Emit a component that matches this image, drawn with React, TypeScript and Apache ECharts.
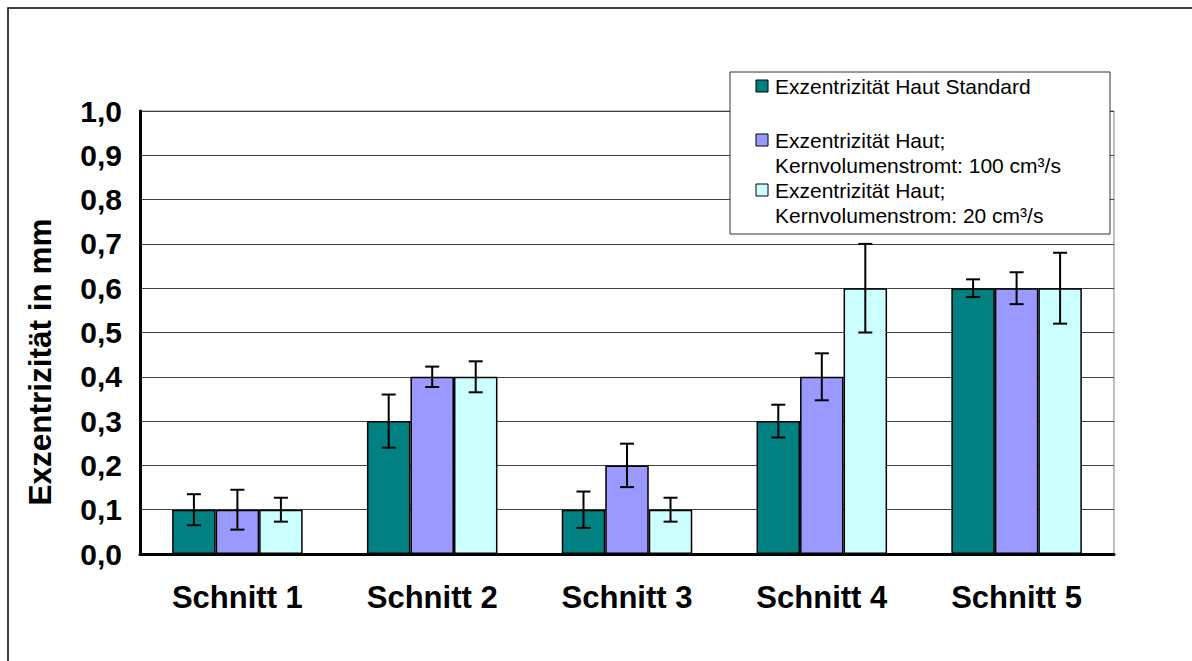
import React, { useEffect, useRef } from "react";
import * as echarts from "echarts";

const categories = ["Schnitt 1", "Schnitt 2", "Schnitt 3", "Schnitt 4", "Schnitt 5"];
const seriesNames = [
  "Exzentrizität Haut Standard",
  "Exzentrizität Haut;\nKernvolumenstromt: 100 cm³/s",
  "Exzentrizität Haut;\nKernvolumenstrom: 20 cm³/s",
];
const seriesColors = ["#008080", "#9999FF", "#CCFFFF"];
const standard = [0.1, 0.3, 0.1, 0.3, 0.6];
const kern100 = [0.1, 0.4, 0.2, 0.4, 0.6];
const kern20 = [0.1, 0.4, 0.1, 0.6, 0.6];
const errStandard = [0.035, 0.06, 0.041, 0.037, 0.02];
const err100 = [0.045, 0.023, 0.049, 0.053, 0.036];
const err20 = [0.027, 0.035, 0.027, 0.1, 0.08];
const yTicks = [0, 0.1, 0.2, 0.3, 0.4, 0.5, 0.6, 0.7, 0.8, 0.9, 1.0];

const FONT = "'Liberation Sans', Arial, Helvetica, sans-serif";
const CAT_GAP = 0.33;

export default function App() {
  const ref = useRef<HTMLDivElement>(null);
  useEffect(() => {
    document.body.style.margin = "0";
    const chart = echarts.init(ref.current!, null, { renderer: "svg" });
    const values = [standard, kern100, kern20];
    const errs = [errStandard, err100, err20];

    const barSeries = values.map((vals, k) => ({
      type: "bar",
      name: seriesNames[k],
      data: vals,
      barGap: "0%",
      barCategoryGap: CAT_GAP * 100 + "%",
      itemStyle: { color: seriesColors[k], borderColor: "#000", borderWidth: 1.5 },
      z: 2,
    }));

    const errSeries = values.map((vals, k) => ({
      type: "custom",
      name: seriesNames[k] + " Fehler",
      data: vals.map((v, i) => [i, v, errs[k][i]]),
      z: 5,
      renderItem: (params: any, api: any) => {
        const i = api.value(0);
        const v = api.value(1);
        const e = api.value(2);
        const c = api.coord([i, v]);
        const catW = api.size([1, 0])[0];
        const bw = (catW * (1 - CAT_GAP)) / 3;
        const x = c[0] + (k - 1) * bw;
        const top = api.coord([i, v + e])[1];
        const bot = api.coord([i, v - e])[1];
        const half = 7;
        const style = { stroke: "#000", lineWidth: 2 };
        return {
          type: "group",
          children: [
            { type: "line", shape: { x1: x, y1: top, x2: x, y2: bot }, style },
            { type: "line", shape: { x1: x - half, y1: top, x2: x + half, y2: top }, style },
            { type: "line", shape: { x1: x - half, y1: bot, x2: x + half, y2: bot }, style },
          ],
        };
      },
    }));

    const legendItems: any[] = [];
    const itemYs = [86, 140, 190];
    seriesNames.forEach((n, k) => {
      const lines = n.split("\n");
      legendItems.push({
        type: "rect",
        shape: { x: 756, y: itemYs[k] - 6, width: 12, height: 12 },
        style: { fill: seriesColors[k], stroke: "#000", lineWidth: 1 },
      });
      lines.forEach((ln, j) => {
        legendItems.push({
          type: "text",
          x: 775,
          y: itemYs[k] + j * 25,
          style: {
            text: ln,
            font: `21px ${FONT}`,
            fill: "#000",
            align: "left",
            verticalAlign: "middle",
          },
        });
      });
    });

    chart.setOption({
      animation: false,
      backgroundColor: "#fff",
      grid: {
        left: 140,
        right: 78,
        top: 111,
        bottom: 107,
        show: true,
        borderColor: "#808080",
        borderWidth: 1,
      },
      xAxis: {
        type: "category",
        data: categories,
        axisLine: { show: true, lineStyle: { color: "#000", width: 3 } },
        axisTick: { show: false },
        axisLabel: {
          color: "#000",
          fontFamily: FONT,
          fontWeight: "bold",
          fontSize: 31,
          margin: 28,
        },
      },
      yAxis: {
        type: "value",
        min: 0,
        max: 1,
        interval: 0.1,
        axisLine: { show: true, lineStyle: { color: "#000", width: 3 } },
        axisTick: { show: false },
        splitLine: { show: true, lineStyle: { color: "#404040", width: 1 } },
        axisLabel: {
          color: "#000",
          fontFamily: FONT,
          fontWeight: "bold",
          fontSize: 30,
          margin: 18,
          customValues: yTicks,
          formatter: (v: number) => v.toFixed(1).replace(".", ","),
        },
      },
      series: [...barSeries, ...errSeries],
      graphic: [
        {
          type: "rect",
          shape: { x: 8, y: 8, width: 1300, height: 800 },
          style: { fill: "none", stroke: "#000", lineWidth: 1.5 },
          silent: true,
          z: 0,
        },
        {
          type: "text",
          x: 40,
          y: 362,
          rotation: Math.PI / 2,
          style: {
            text: "Exzentrizität in mm",
            font: `bold 31.5px ${FONT}`,
            fill: "#000",
            align: "center",
            verticalAlign: "middle",
          },
        },
        {
          type: "rect",
          shape: { x: 730, y: 72, width: 380, height: 162 },
          style: { fill: "#fff", stroke: "#333", lineWidth: 1 },
          z: 10,
        },
        ...legendItems.map((it) => ({ ...it, z: 11 })),
      ],
    });
    return () => chart.dispose();
  }, []);
  return (
    <div
      ref={ref}
      style={{ position: "absolute", left: 0, top: 0, width: 1192, height: 661 }}
    />
  );
}
